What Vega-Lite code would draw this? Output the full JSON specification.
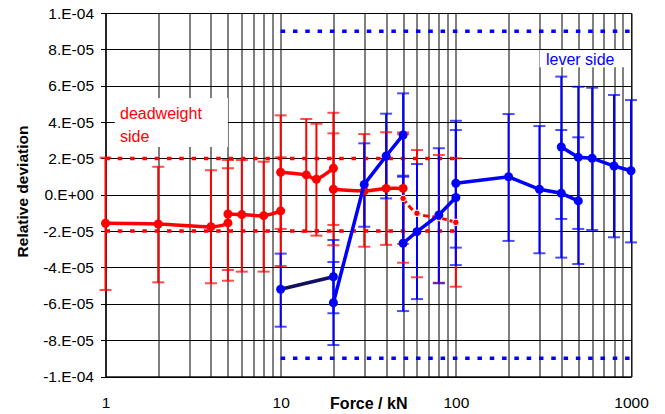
{
  "$schema": "https://vega.github.io/schema/vega-lite/v6.json",
  "width": 525.5,
  "height": 363.5,
  "autosize": {"type": "none"},
  "padding": {"left": 105.5, "top": 13, "right": 34, "bottom": 37.5},
  "background": "white",
  "config": {
    "view": {"stroke": "#333", "strokeWidth": 1},
    "font": "Liberation Sans",
    "axis": {"labelOverlap": false, "labelSeparation": 0}
  },
  "datasets": {
    "boxes": [
      {"F": 1.13, "F2": 5.0, "v": 0.0000532, "v2": 0.0000263},
      {"F": 301, "F2": 1000, "v": 0.0000796, "v2": 0.0000701}
    ],
    "refs": [
      {"side": "deadweight", "ref": "dw_up", "F": 1, "v": 0.00002},
      {"side": "deadweight", "ref": "dw_up", "F": 106, "v": 0.00002},
      {"side": "deadweight", "ref": "dw_dn", "F": 1, "v": -0.00002},
      {"side": "deadweight", "ref": "dw_dn", "F": 106, "v": -0.00002},
      {"side": "lever", "ref": "lv_up", "F": 10, "v": 0.00009},
      {"side": "lever", "ref": "lv_up", "F": 1000, "v": 0.00009},
      {"side": "lever", "ref": "lv_dn", "F": 10, "v": -0.00009},
      {"side": "lever", "ref": "lv_dn", "F": 1000, "v": -0.00009}
    ],
    "pts": [
      {"side": "deadweight", "seg": "dw1", "ord": 1, "F": 1, "v": -0.0000157, "lo": -0.0000524, "hi": 0.0000204},
      {"side": "deadweight", "seg": "dw1", "ord": 2, "F": 2, "v": -0.0000161, "lo": -0.0000482, "hi": 0.0000154},
      {"side": "deadweight", "seg": "dw1", "ord": 3, "F": 4, "v": -0.0000176, "lo": -0.0000487, "hi": 0.0000135},
      {"side": "deadweight", "seg": "dw1", "ord": 4, "F": 5, "v": -0.0000155, "lo": -0.0000473, "hi": 0.0000146},
      {"side": "deadweight", "seg": "dw2", "ord": 5, "F": 5, "v": -0.0000106, "lo": -0.0000414, "hi": 0.0000191},
      {"side": "deadweight", "seg": "dw2", "ord": 6, "F": 6, "v": -0.0000109, "lo": -0.0000423, "hi": 0.0000191},
      {"side": "deadweight", "seg": "dw2", "ord": 7, "F": 8, "v": -0.0000115, "lo": -0.0000423, "hi": 0.0000182},
      {"side": "deadweight", "seg": "dw2", "ord": 8, "F": 10, "v": -0.0000089, "lo": -0.0000392, "hi": 0.0000206},
      {"side": "deadweight", "seg": "dw3", "ord": 9, "F": 10, "v": 0.0000124, "lo": -0.0000188, "hi": 0.0000437},
      {"side": "deadweight", "seg": "dw3", "ord": 10, "F": 14, "v": 0.0000109, "lo": -0.0000203, "hi": 0.0000417},
      {"side": "deadweight", "seg": "dw3", "ord": 11, "F": 16, "v": 0.0000085, "lo": -0.0000225, "hi": 0.0000391},
      {"side": "deadweight", "seg": "dw3", "ord": 12, "F": 20, "v": 0.0000146, "lo": -0.0000166, "hi": 0.0000451},
      {"side": "deadweight", "seg": "dw4", "ord": 13, "F": 20, "v": 0.0000030, "lo": -0.0000278, "hi": 0.0000338},
      {"side": "deadweight", "seg": "dw4", "ord": 14, "F": 30, "v": 0.0000021, "lo": -0.0000286, "hi": 0.0000334},
      {"side": "deadweight", "seg": "dw4", "ord": 15, "F": 40, "v": 0.0000035, "lo": -0.0000276, "hi": 0.0000344},
      {"side": "deadweight", "seg": "dw4", "ord": 16, "F": 50, "v": 0.0000035, "lo": -0.0000271, "hi": 0.0000343},
      {"side": "deadweight", "seg": "dw5", "ord": 17, "F": 50, "v": -0.0000020, "lo": -0.0000374, "hi": 0.0000333},
      {"side": "deadweight", "seg": "dw5", "ord": 18, "F": 60, "v": -0.0000102, "lo": -0.0000454, "hi": 0.0000246},
      {"side": "deadweight", "seg": "dw5", "ord": 19, "F": 80, "v": -0.0000126, "lo": -0.0000484, "hi": 0.0000219},
      {"side": "deadweight", "seg": "dw5", "ord": 20, "F": 100, "v": -0.0000152, "lo": -0.0000506, "hi": 0.0000201},
      {"side": "lever", "seg": "lvA", "ord": 1, "F": 10, "v": -0.0000520, "lo": -0.0000726, "hi": -0.0000324},
      {"side": "lever", "seg": "lvA", "ord": 2, "F": 20, "v": -0.0000451, "lo": -0.0000652, "hi": -0.0000249},
      {"side": "lever", "seg": "lvB", "ord": 3, "F": 20, "v": -0.0000594, "lo": -0.0000827, "hi": -0.0000370},
      {"side": "lever", "seg": "lvB", "ord": 4, "F": 30, "v": 0.0000057, "lo": -0.0000176, "hi": 0.0000283},
      {"side": "lever", "seg": "lvB", "ord": 5, "F": 40, "v": 0.0000213, "lo": -0.0000020, "hi": 0.0000446},
      {"side": "lever", "seg": "lvB", "ord": 6, "F": 50, "v": 0.0000329, "lo": 0.0000099, "hi": 0.0000558},
      {"side": "lever", "seg": "lvC", "ord": 7, "F": 50, "v": -0.0000267, "lo": -0.0000640, "hi": 0.0000105},
      {"side": "lever", "seg": "lvC", "ord": 8, "F": 60, "v": -0.0000203, "lo": -0.0000574, "hi": 0.0000169},
      {"side": "lever", "seg": "lvC", "ord": 9, "F": 80, "v": -0.0000111, "lo": -0.0000487, "hi": 0.0000256},
      {"side": "lever", "seg": "lvC", "ord": 10, "F": 100, "v": -0.0000015, "lo": -0.0000387, "hi": 0.0000356},
      {"side": "lever", "seg": "lvD", "ord": 11, "F": 100, "v": 0.0000063, "lo": -0.0000291, "hi": 0.0000407},
      {"side": "lever", "seg": "lvD", "ord": 12, "F": 200, "v": 0.0000099, "lo": -0.0000254, "hi": 0.0000444},
      {"side": "lever", "seg": "lvD", "ord": 13, "F": 300, "v": 0.0000030, "lo": -0.0000322, "hi": 0.0000378},
      {"side": "lever", "seg": "lvD", "ord": 14, "F": 400, "v": 0.0000008, "lo": -0.0000346, "hi": 0.0000356},
      {"side": "lever", "seg": "lvD", "ord": 15, "F": 500, "v": -0.0000034, "lo": -0.0000381, "hi": 0.0000316},
      {"side": "lever", "seg": "lvE", "ord": 16, "F": 400, "v": 0.0000263, "lo": -0.0000133, "hi": 0.0000650},
      {"side": "lever", "seg": "lvE", "ord": 17, "F": 500, "v": 0.0000206, "lo": -0.0000188, "hi": 0.0000594},
      {"side": "lever", "seg": "lvE", "ord": 18, "F": 600, "v": 0.0000201, "lo": -0.0000194, "hi": 0.0000589},
      {"side": "lever", "seg": "lvE", "ord": 19, "F": 800, "v": 0.0000158, "lo": -0.0000234, "hi": 0.0000549},
      {"side": "lever", "seg": "lvE", "ord": 20, "F": 1000, "v": 0.0000132, "lo": -0.0000262, "hi": 0.0000521}
    ],
    "labels": [
      {"side": "deadweight", "txt": "deadweight", "F": 1.21, "v": 0.0000415},
      {"side": "deadweight", "txt": "side", "F": 1.21, "v": 0.0000292},
      {"side": "lever", "txt": "lever side", "F": 327, "v": 0.0000714}
    ]
  },
  "layer": [
    {
      "data": {"name": "boxes"},
      "mark": {"type": "rect", "fill": "white", "stroke": null},
      "encoding": {
        "x": {
          "field": "F", "type": "quantitative",
          "scale": {"type": "log", "domain": [1, 1000], "nice": false},
          "axis": {
            "values": [1, 2, 3, 4, 5, 6, 7, 8, 9, 10, 20, 30, 40, 50, 60, 70, 80, 90, 100, 200, 300, 400, 500, 600, 700, 800, 900, 1000],
            "tickCount": 40,
            "labelExpr": "indexof([1, 10, 100, 1000], datum.value) >= 0 ? format(datum.value, 'd') : ''",
            "labelFlush": false,
            "labelOverlap": false,
            "ticks": false,
            "labelPadding": 19,
            "labelFontSize": 15.5,
            "labelColor": "#000",
            "labelFont": "Liberation Sans",
            "domainColor": "#000",
            "grid": true,
            "gridColor": "#000",
            "gridOpacity": 1,
            "gridWidth": 1,
            "title": "Force / kN",
            "titleFont": "Liberation Sans",
            "titleFontSize": 16,
            "titleFontWeight": "bold",
            "titleColor": "#000",
            "titleY": 31.5,
            "titleBaseline": "alphabetic"
          }
        },
        "x2": {"field": "F2"},
        "y": {
          "field": "v", "type": "quantitative",
          "scale": {"domain": [-0.0001, 0.0001], "nice": false, "zero": false},
          "axis": {
            "values": [-0.0001, -0.00008, -0.00006, -0.00004, -0.00002, 0, 0.00002, 0.00004, 0.00006, 0.00008, 0.0001],
            "tickCount": 20,
            "labelExpr": "round(datum.value * 1e5) == 0 ? '0.E+00' : (round(datum.value * 1e5) < 0 ? '-' : '') + (abs(round(datum.value * 1e5)) == 10 ? '1.E-04' : abs(round(datum.value * 1e5)) + '.E-05')",
            "labelOverlap": false,
            "labelSeparation": 0,
            "labelFontSize": 15.5,
            "labelColor": "#000",
            "labelFont": "Liberation Sans",
            "labelPadding": 7,
            "tickSize": 5,
            "tickColor": "#000",
            "domainColor": "#000",
            "grid": true,
            "gridColor": "#000",
            "gridOpacity": 1,
            "gridWidth": 1,
            "title": "Relative deviation",
            "titleFont": "Liberation Sans",
            "titleFontSize": 15.5,
            "titleFontWeight": "bold",
            "titleColor": "#000",
            "titleX": -78.5,
            "titleY": 178,
            "titleBaseline": "alphabetic",
            "titleAlign": "center"
          }
        },
        "y2": {"field": "v2"}
      }
    },
    {
      "data": {"name": "refs"},
      "mark": {"type": "line", "strokeWidth": 3.5, "strokeDash": [4.5, 7.8]},
      "encoding": {
        "x": {"field": "F", "type": "quantitative"},
        "y": {"field": "v", "type": "quantitative"},
        "detail": {"field": "ref"},
        "color": {"field": "side", "type": "nominal", "scale": {"domain": ["deadweight", "lever"], "range": ["#FF0000", "#0000FF"]}, "legend": null}
      }
    },
    {
      "data": {"name": "pts"},
      "mark": {"type": "rule", "strokeWidth": 2},
      "encoding": {
        "x": {"field": "F", "type": "quantitative"},
        "y": {"field": "lo", "type": "quantitative"},
        "y2": {"field": "hi"},
        "color": {"field": "side", "type": "nominal", "legend": null}
      }
    },
    {
      "data": {"name": "pts"},
      "mark": {"type": "tick", "orient": "horizontal", "size": 12, "thickness": 2},
      "encoding": {
        "x": {"field": "F", "type": "quantitative"},
        "y": {"field": "lo", "type": "quantitative"},
        "color": {"field": "side", "type": "nominal", "legend": null}
      }
    },
    {
      "data": {"name": "pts"},
      "mark": {"type": "tick", "orient": "horizontal", "size": 12, "thickness": 2},
      "encoding": {
        "x": {"field": "F", "type": "quantitative"},
        "y": {"field": "hi", "type": "quantitative"},
        "color": {"field": "side", "type": "nominal", "legend": null}
      }
    },
    {
      "data": {"name": "pts"},
      "transform": [{"filter": "datum.side == 'deadweight' && datum.seg != 'dw5'"}],
      "mark": {"type": "line", "strokeWidth": 3.5, "interpolate": "cardinal"},
      "encoding": {
        "x": {"field": "F", "type": "quantitative"},
        "y": {"field": "v", "type": "quantitative"},
        "detail": {"field": "seg"},
        "order": {"field": "ord"},
        "color": {"field": "side", "type": "nominal", "legend": null}
      }
    },
    {
      "data": {"name": "pts"},
      "transform": [{"filter": "datum.seg == 'dw5'"}],
      "mark": {"type": "line", "strokeWidth": 3, "interpolate": "cardinal", "strokeDash": [6, 3]},
      "encoding": {
        "x": {"field": "F", "type": "quantitative"},
        "y": {"field": "v", "type": "quantitative"},
        "order": {"field": "ord"},
        "color": {"field": "side", "type": "nominal", "legend": null}
      }
    },
    {
      "data": {"name": "pts"},
      "transform": [{"filter": "datum.side == 'deadweight' && datum.seg != 'dw5'"}],
      "mark": {"type": "point", "filled": true, "shape": "circle", "size": 81, "opacity": 1},
      "encoding": {
        "x": {"field": "F", "type": "quantitative"},
        "y": {"field": "v", "type": "quantitative"},
        "color": {"field": "side", "type": "nominal", "legend": null}
      }
    },
    {
      "data": {"name": "pts"},
      "transform": [{"filter": "datum.seg == 'dw5'"}],
      "mark": {"type": "point", "filled": true, "shape": "circle", "size": 42, "opacity": 1, "stroke": "white", "strokeWidth": 1},
      "encoding": {
        "x": {"field": "F", "type": "quantitative"},
        "y": {"field": "v", "type": "quantitative"},
        "fill": {"field": "side", "type": "nominal", "scale": {"domain": ["deadweight", "lever"], "range": ["#FF0000", "#0000FF"]}, "legend": null}
      }
    },
    {
      "data": {"name": "pts"},
      "transform": [{"filter": "datum.seg == 'lvA'"}],
      "mark": {"type": "line", "strokeWidth": 3.5, "color": "#10105e"},
      "encoding": {
        "x": {"field": "F", "type": "quantitative"},
        "y": {"field": "v", "type": "quantitative"},
        "order": {"field": "ord"}
      }
    },
    {
      "data": {"name": "pts"},
      "transform": [{"filter": "datum.side == 'lever' && datum.seg != 'lvA'"}],
      "mark": {"type": "line", "strokeWidth": 3.5},
      "encoding": {
        "x": {"field": "F", "type": "quantitative"},
        "y": {"field": "v", "type": "quantitative"},
        "detail": {"field": "seg"},
        "order": {"field": "ord"},
        "color": {"field": "side", "type": "nominal", "legend": null}
      }
    },
    {
      "data": {"name": "pts"},
      "transform": [{"filter": "datum.side == 'lever'"}],
      "mark": {"type": "point", "filled": true, "shape": "circle", "size": 81, "opacity": 1},
      "encoding": {
        "x": {"field": "F", "type": "quantitative"},
        "y": {"field": "v", "type": "quantitative"},
        "color": {"field": "side", "type": "nominal", "legend": null}
      }
    },
    {
      "data": {"name": "labels"},
      "mark": {"type": "text", "align": "left", "baseline": "alphabetic", "font": "Liberation Sans", "fontSize": 16},
      "encoding": {
        "x": {"field": "F", "type": "quantitative"},
        "y": {"field": "v", "type": "quantitative"},
        "text": {"field": "txt"},
        "color": {"field": "side", "type": "nominal", "legend": null}
      }
    }
  ]
}
